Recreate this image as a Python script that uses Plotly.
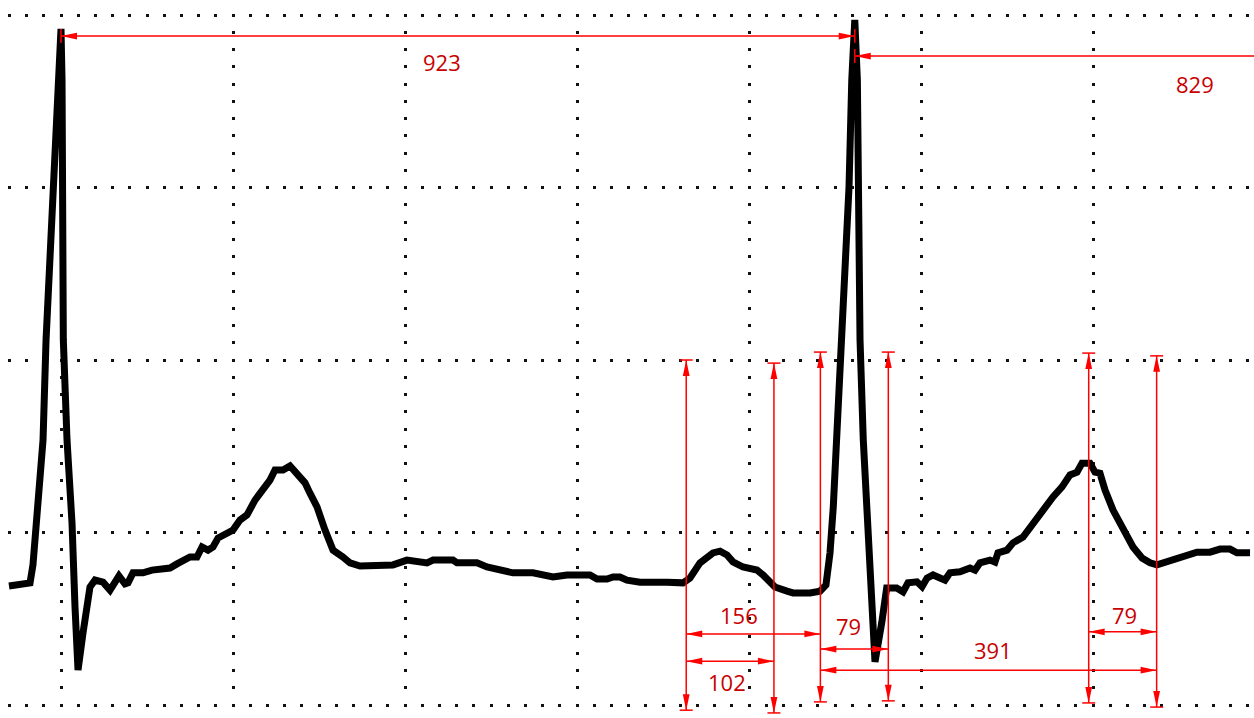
import plotly.graph_objects as go

# ECG trace: time in ms (first R peak at t = 0), amplitude in mV
t_ms = [
    -60.5, -47.7, -36.0, -32.6, -26.7, -20.9, -17.4, -9.7, -5.8, -2.3, 0.0,
    1.2, 1.7, 2.7, 7.0, 12.8, 16.3, 19.8, 25.6, 33.7, 39.5, 48.8, 57.0, 65.1,
    67.4, 74.4, 77.9, 83.7, 95.3, 105.8, 118.6, 126.7, 134.9, 141.9, 150.0,
    158.1, 164.0, 170.9, 176.7, 182.6, 193.0, 200.0, 208.1, 216.3, 225.6,
    234.9, 243.0, 248.8, 258.1, 266.3, 272.1, 277.9, 283.7, 289.5, 297.7,
    307.0, 316.3, 327.9, 336.0, 347.7, 367.4, 386.0, 402.3, 414.0, 425.6,
    432.6, 455.8, 460.5, 483.7, 495.3, 510.5, 525.6, 548.8, 572.1, 588.4,
    615.1, 623.3, 634.9, 641.9, 650.0, 658.1, 673.3, 704.7, 723.3, 731.4,
    743.0, 758.1, 766.3, 774.4, 781.4, 793.0, 809.3, 816.3, 824.4, 830.2,
    844.2, 851.2, 870.9, 882.6, 889.5, 894.2, 898.0, 902.0, 906.6, 916.3,
    919.5, 923.0, 926.0, 927.0, 929.1, 932.9, 938.7, 942.6, 946.5, 954.3,
    960.1, 971.7, 979.1, 984.9, 995.3, 1001.2, 1007.0, 1014.0, 1022.1,
    1027.9, 1033.7, 1045.3, 1057.0, 1062.8, 1068.6, 1080.2, 1086.0, 1089.5,
    1100.0, 1107.0, 1118.6, 1130.2, 1141.9, 1153.5, 1164.0, 1173.3, 1181.4,
    1187.2, 1196.5, 1202.3, 1208.1, 1214.0, 1223.3, 1231.4, 1239.5, 1246.5,
    1257.0, 1266.3, 1274.4, 1286.0, 1297.7, 1309.3, 1320.9, 1336.0, 1347.7,
    1359.3, 1367.4, 1382.6,
]
amp_mv = [
    -0.155, -0.152, -0.146, -0.094, 0.074, 0.268, 0.558, 1.002, 1.158, 1.370, 1.460,
    1.312, 1.002, 0.558, 0.268, 0.028, -0.216, -0.399, -0.291, -0.158, -0.138, -0.144, -0.167, -0.129,
    -0.126, -0.149, -0.146, -0.117, -0.117, -0.109, -0.106, -0.103, -0.091, -0.083, -0.071,
    -0.071, -0.042, -0.051, -0.042, -0.016, -0.001, 0.007, 0.036, 0.051, 0.094,
    0.123, 0.152, 0.181, 0.181, 0.193, 0.175, 0.158, 0.144, 0.114, 0.074,
    0.007, -0.051, -0.071, -0.088, -0.097, -0.097, -0.094, -0.080, -0.086, -0.088,
    -0.080, -0.080, -0.088, -0.088, -0.100, -0.109, -0.117, -0.117, -0.129, -0.123,
    -0.123, -0.135, -0.135, -0.129, -0.129, -0.138, -0.144, -0.144, -0.146, -0.132,
    -0.088, -0.059, -0.054, -0.065, -0.085, -0.100, -0.109, -0.123, -0.143, -0.158,
    -0.170, -0.175, -0.175, -0.170, -0.152, -0.059, 0.074, 0.268, 0.558, 1.002,
    1.312, 1.486, 1.312, 1.002, 0.558, 0.268, -0.022, -0.216, -0.375, -0.262,
    -0.161, -0.161, -0.172, -0.146, -0.143, -0.157, -0.132, -0.123, -0.129,
    -0.138, -0.117, -0.114, -0.103, -0.109, -0.088, -0.080, -0.086, -0.059,
    -0.051, -0.030, -0.013, 0.027, 0.059, 0.103, 0.132, 0.167, 0.175,
    0.201, 0.201, 0.175, 0.172, 0.123, 0.065, 0.030, -0.013, -0.042,
    -0.074, -0.088, -0.094, -0.085, -0.074, -0.065, -0.057, -0.057, -0.048,
    -0.048, -0.059, -0.059,
]

# Measured intervals (ms)
r_peaks = [0, 923]
rr_intervals = [923, 829]
p_onset = 727
pr_interval = 156
p_duration = 102
qrs_duration = 79
qt_interval = 391
t_peak_to_end = 79

# Derived fiducial points
qrs_onset = p_onset + pr_interval
p_end = p_onset + p_duration
qrs_end = qrs_onset + qrs_duration
qt_end = qrs_onset + qt_interval
t_peak = qt_end - t_peak_to_end

W, H = 1254, 718
X_RANGE = [-61 / 0.86, (W - 61) / 0.86]
Y_RANGE = [-(H - 532.5) / 345, 532.5 / 345]
MS_PER_PX = (X_RANGE[1] - X_RANGE[0]) / W
MV_PER_PX = (Y_RANGE[1] - Y_RANGE[0]) / H

RED = "#ff0000"
TXT = "#c80000"
LW = 1.5

shapes = []


def seg(x0, y0, x1, y1):
    shapes.append(dict(type="line", xref="x", yref="y", x0=x0, y0=y0, x1=x1, y1=y1,
                       line=dict(color=RED, width=LW)))


def head(x, y, d, length=16, half=3.4):
    # filled arrowhead with its tip at (x, y), pointing in direction d
    if d in ("left", "right"):
        bx = x + (length if d == "left" else -length) * MS_PER_PX
        hy = half * MV_PER_PX
        p = f"M{x},{y} L{bx},{y + hy} L{bx},{y - hy} Z"
    else:
        by = y + (-length if d == "up" else length) * MV_PER_PX
        hx = half * MS_PER_PX
        p = f"M{x},{y} L{x + hx},{by} L{x - hx},{by} Z"
    shapes.append(dict(type="path", xref="x", yref="y", path=p,
                       fillcolor=RED, line=dict(width=0)))


def hbar_arrow(xa, xb, y, bars=False):
    seg(xa, y, xb, y)
    head(xa, y, "left")
    head(xb, y, "right")
    if bars:
        dy = 7 * MV_PER_PX
        seg(xa, y - dy, xa, y + dy)
        seg(xb, y - dy, xb, y + dy)


def vmarker(x, y0, y1):
    seg(x, y0, x, y1)
    head(x, y1, "up")
    head(x, y0, "down")
    dx = 6.5 * MS_PER_PX
    seg(x - dx, y1, x + dx, y1)
    seg(x - dx, y0, x + dx, y0)


# vertical markers at the fiducial points
vmarker(p_onset, -0.515, 0.500)
vmarker(p_end, -0.523, 0.491)
vmarker(qrs_onset, -0.491, 0.523)
vmarker(qrs_end, -0.488, 0.523)
vmarker(t_peak, -0.494, 0.520)
vmarker(qt_end, -0.506, 0.512)

# interval arrows
hbar_arrow(r_peaks[0], r_peaks[0] + rr_intervals[0], 1.439, bars=True)
hbar_arrow(r_peaks[1], r_peaks[1] + rr_intervals[1], 1.381, bars=True)
hbar_arrow(p_onset, qrs_onset, -0.294)
hbar_arrow(p_onset, p_end, -0.373)
hbar_arrow(qrs_onset, qrs_end, -0.338)
hbar_arrow(qrs_onset, qt_end, -0.399)
hbar_arrow(t_peak, qt_end, -0.288)

labels = [
    (443, 1.364, rr_intervals[0]),
    (1319, 1.300, rr_intervals[1]),
    (788, -0.239, pr_interval),
    (774, -0.433, p_duration),
    (916, -0.271, qrs_duration),
    (1084, -0.341, qt_interval),
    (1237, -0.239, t_peak_to_end),
]
annotations = [
    dict(x=x, y=y, xref="x", yref="y", text=str(v), showarrow=False,
         xanchor="center", yanchor="middle",
         font=dict(family="Open Sans", size=22, color=TXT))
    for x, y, v in labels
]

fig = go.Figure()
fig.add_trace(go.Scatter(x=t_ms, y=amp_mv, mode="lines",
                         line=dict(color="#000000", width=7),
                         hoverinfo="skip", showlegend=False))

fig.update_layout(
    width=W, height=H,
    margin=dict(l=0, r=0, t=0, b=0),
    paper_bgcolor="white", plot_bgcolor="white",
    shapes=shapes, annotations=annotations,
    xaxis=dict(range=X_RANGE, tick0=0, dtick=200, showgrid=True,
               gridcolor="#111111", gridwidth=3,
               griddash="0px,13.5px,3px,0.75px",
               zeroline=False, showticklabels=False, ticks="",
               showline=False, fixedrange=True),
    yaxis=dict(range=Y_RANGE, tick0=0, dtick=0.5, showgrid=True,
               gridcolor="#111111", gridwidth=3,
               griddash="0px,7.9px,3px,6.3px",
               zeroline=False, showticklabels=False, ticks="",
               showline=False, fixedrange=True),
    showlegend=False,
)

fig.write_html("out.html")
